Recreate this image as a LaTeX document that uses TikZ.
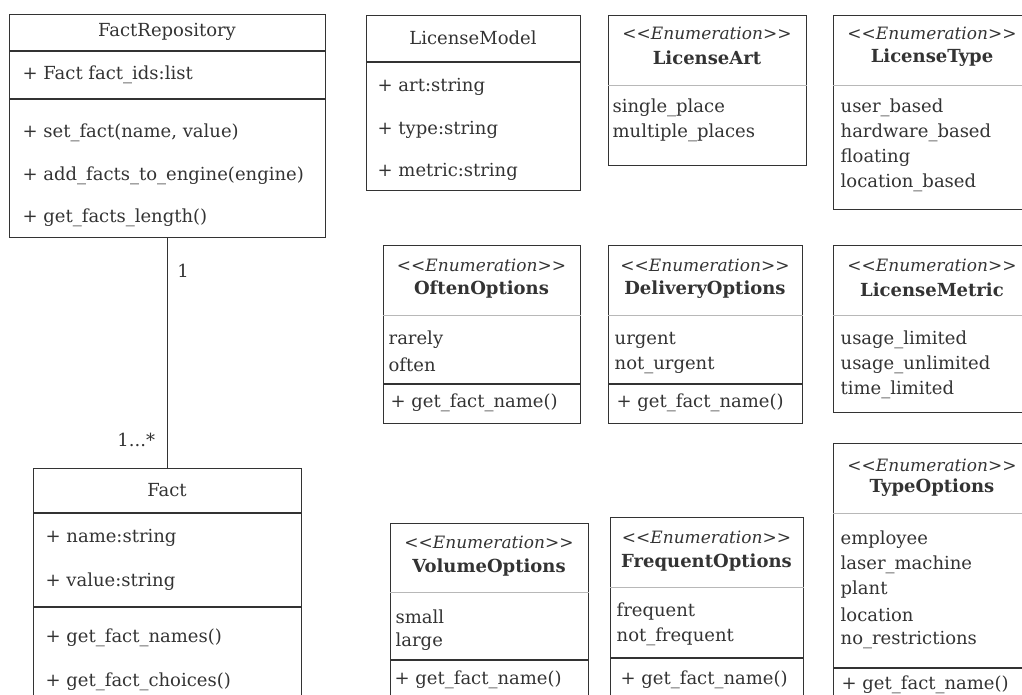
\documentclass[tikz,border=0pt]{standalone}
\usepackage{fontspec}
\setmainfont{DejaVu Serif}
\usetikzlibrary{calc,positioning}
\definecolor{umlgray}{HTML}{333333}
\definecolor{enumsep}{HTML}{B8B8B8}
\tikzset{every picture/.style={line width=1.3pt}}
\tikzset{
    umlbox/.style={draw=umlgray,anchor=north west,inner sep=0pt},
    sepline/.style={draw=umlgray},
    enumline/.style={draw=enumsep,line width=1pt},
    item/.style={anchor=west,inner sep=0pt,text=umlgray,font=\fontsize{18}{21}\selectfont},
    classname/.style={inner sep=0pt,text=umlgray,font=\fontsize{18}{21}\selectfont},
    enumname/.style={inner sep=0pt,text=umlgray,font=\fontsize{18}{21}\selectfont\bfseries},
    stereo/.style={inner sep=0pt,text=umlgray,font=\fontsize{17}{20}\selectfont},
    mult/.style={inner sep=0pt,text=umlgray,font=\fontsize{18}{21}\selectfont}
}
\newcommand{\enumtag}{{<}{<}\textit{Enumeration}{>}{>}}

\begin{document}
\begin{tikzpicture}[x=1pt,y=-1pt]
    \useasboundingbox (0,0) rectangle (1022,694);
    \clip (0,0) rectangle (1022,694);

    % FactRepository
    \node[umlbox,minimum width=316pt,minimum height=223pt] (repo) at (9,14) {};
    \draw[sepline] ($(repo.north west)+(0,37)$) -- ($(repo.north east)+(0,37)$);
    \draw[sepline] ($(repo.north west)+(0,85)$) -- ($(repo.north east)+(0,85)$);
    \node[classname] at (167,32) {FactRepository};
    \node[item] at (22,75) {+ Fact fact\_ids:list};
    \node[item] at (22,133) {+ set\_fact(name, value)};
    \node[item] at (22,176) {+ add\_facts\_to\_engine(engine)};
    \node[item] at (22,218) {+ get\_facts\_length()};

    % Fact
    \node[umlbox,minimum width=268pt,minimum height=260pt] (fact) at (33,468) {};
    \draw[sepline] ($(fact.north west)+(0,45)$) -- ($(fact.north east)+(0,45)$);
    \draw[sepline] ($(fact.north west)+(0,139)$) -- ($(fact.north east)+(0,139)$);
    \node[classname] at (167,490) {Fact};
    \node[item] at (45,538) {+ name:string};
    \node[item] at (45,582) {+ value:string};
    \node[item] at (45,638) {+ get\_fact\_names()};
    \node[item] at (45,682) {+ get\_fact\_choices()};

    % association
    \draw[umlgray] (repo.south) -- (fact.north)
        node[mult,pos=0.14,anchor=west,xshift=9pt] {1}
        node[mult,pos=0.88,anchor=east,xshift=-12pt] {1...*};

    % LicenseModel
    \node[umlbox,minimum width=214pt,minimum height=175pt] (model) at (366,15) {};
    \draw[sepline] ($(model.north west)+(0,47)$) -- ($(model.north east)+(0,47)$);
    \node[classname] at (473,38) {LicenseModel};
    \node[item] at (377,87) {+ art:string};
    \node[item] at (377,130) {+ type:string};
    \node[item] at (377,172) {+ metric:string};

    % LicenseArt
    \node[umlbox,minimum width=198pt,minimum height=150pt] (art) at (608,15) {};
    \draw[enumline] ($(art.north west)+(0,70)$) -- ($(art.north east)+(0,70)$);
    \node[stereo] at (707,33) {\enumtag};
    \node[enumname] at (707,58) {LicenseArt};
    \node[item] at (612,108) {single\_place};
    \node[item] at (612,133) {multiple\_places};

    % LicenseType
    \node[umlbox,minimum width=198pt,minimum height=194pt] (type) at (833,15) {};
    \draw[enumline] ($(type.north west)+(0,70)$) -- ($(type.north east)+(0,70)$);
    \node[stereo] at (932,33) {\enumtag};
    \node[enumname] at (932,58) {LicenseType};
    \node[item] at (840,108) {user\_based};
    \node[item] at (840,133) {hardware\_based};
    \node[item] at (840,158) {floating};
    \node[item] at (840,183) {location\_based};

    % OftenOptions
    \node[umlbox,minimum width=197pt,minimum height=178pt] (often) at (383,245) {};
    \draw[enumline] ($(often.north west)+(0,70)$) -- ($(often.north east)+(0,70)$);
    \draw[sepline] ($(often.north west)+(0,139)$) -- ($(often.north east)+(0,139)$);
    \node[stereo] at (481.5,265) {\enumtag};
    \node[enumname] at (481.5,290) {OftenOptions};
    \node[item] at (388,340) {rarely};
    \node[item] at (388,365) {often};
    \node[item] at (390,403) {+ get\_fact\_name()};

    % DeliveryOptions
    \node[umlbox,minimum width=194pt,minimum height=178pt] (delivery) at (608,245) {};
    \draw[enumline] ($(delivery.north west)+(0,70)$) -- ($(delivery.north east)+(0,70)$);
    \draw[sepline] ($(delivery.north west)+(0,139)$) -- ($(delivery.north east)+(0,139)$);
    \node[stereo] at (705,265) {\enumtag};
    \node[enumname] at (705,290) {DeliveryOptions};
    \node[item] at (614,340) {urgent};
    \node[item] at (614,365) {not\_urgent};
    \node[item] at (616,403) {+ get\_fact\_name()};

    % LicenseMetric
    \node[umlbox,minimum width=198pt,minimum height=167pt] (metric) at (833,245) {};
    \draw[enumline] ($(metric.north west)+(0,70)$) -- ($(metric.north east)+(0,70)$);
    \node[stereo] at (932,265) {\enumtag};
    \node[enumname] at (932,290) {LicenseMetric};
    \node[item] at (840,340) {usage\_limited};
    \node[item] at (840,365) {usage\_unlimited};
    \node[item] at (840,390) {time\_limited};

    % VolumeOptions
    \node[umlbox,minimum width=198pt,minimum height=200pt] (volume) at (390,523) {};
    \draw[enumline] ($(volume.north west)+(0,69)$) -- ($(volume.north east)+(0,69)$);
    \draw[sepline] ($(volume.north west)+(0,137)$) -- ($(volume.north east)+(0,137)$);
    \node[stereo] at (489,542) {\enumtag};
    \node[enumname] at (489,568) {VolumeOptions};
    \node[item] at (395,617) {small};
    \node[item] at (395,642) {large};
    \node[item] at (394,680) {+ get\_fact\_name()};

    % FrequentOptions
    \node[umlbox,minimum width=193pt,minimum height=200pt] (frequent) at (610,517) {};
    \draw[enumline] ($(frequent.north west)+(0,70)$) -- ($(frequent.north east)+(0,70)$);
    \draw[sepline] ($(frequent.north west)+(0,141)$) -- ($(frequent.north east)+(0,141)$);
    \node[stereo] at (706.5,537) {\enumtag};
    \node[enumname] at (706.5,563) {FrequentOptions};
    \node[item] at (616,612) {frequent};
    \node[item] at (616,637) {not\_frequent};
    \node[item] at (620,680) {+ get\_fact\_name()};

    % TypeOptions
    \node[umlbox,minimum width=198pt,minimum height=280pt] (typeopt) at (833,443) {};
    \draw[enumline] ($(typeopt.north west)+(0,70)$) -- ($(typeopt.north east)+(0,70)$);
    \draw[sepline] ($(typeopt.north west)+(0,225)$) -- ($(typeopt.north east)+(0,225)$);
    \node[stereo] at (932,465) {\enumtag};
    \node[enumname] at (932,488) {TypeOptions};
    \node[item] at (840,540) {employee};
    \node[item] at (840,565) {laser\_machine};
    \node[item] at (840,590) {plant};
    \node[item] at (840,615) {location};
    \node[item] at (840,640) {no\_restrictions};
    \node[item] at (841,685) {+ get\_fact\_name()};
\end{tikzpicture}
\end{document}
